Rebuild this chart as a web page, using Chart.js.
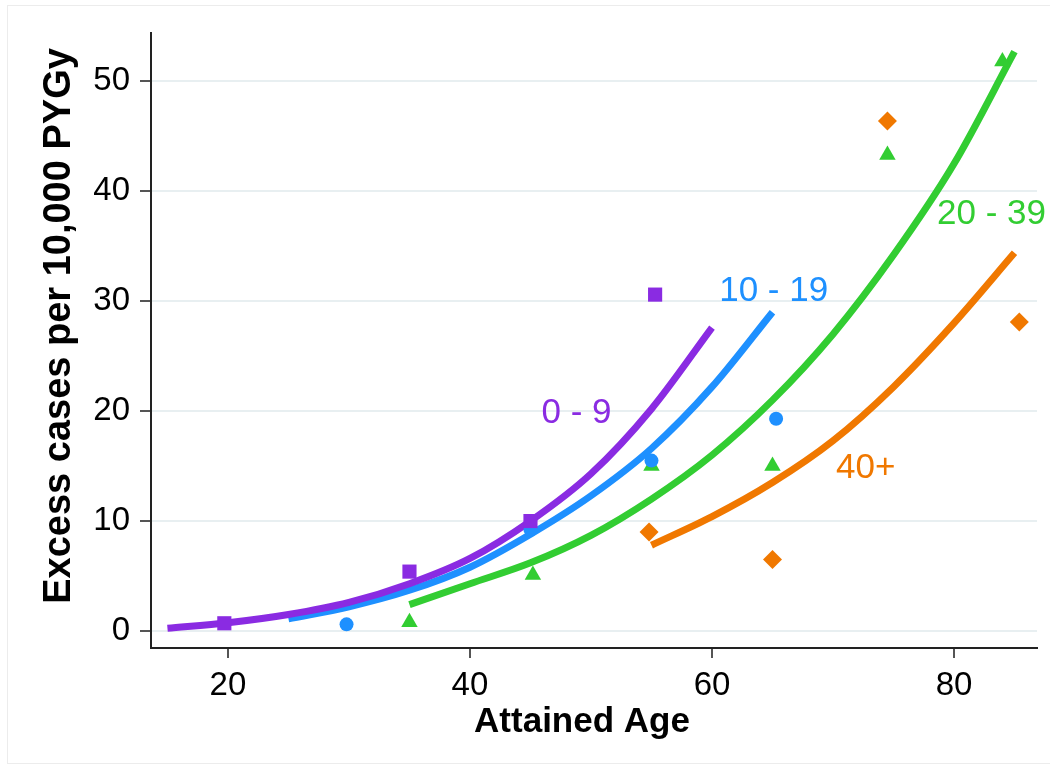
<!DOCTYPE html>
<html>
<head>
<meta charset="utf-8">
<script src="https://cdn.jsdelivr.net/npm/chart.js@4.4.1/dist/chart.umd.min.js"></script>
<style>
  html, body { margin: 0; padding: 0; background: #fff; }
  #wrap { position: relative; width: 1050px; height: 769px; overflow: hidden; }
  #frame { position: absolute; left: 7px; top: 5px; width: 1060px; height: 757px; border: 1px solid #ececec; }
  canvas { position: absolute; left: 0; top: 0; }
</style>
</head>
<body>
<div id="wrap">
  <div id="frame"></div>
  <canvas id="chart" width="1050" height="769"></canvas>
</div>
<script>
// axis ticks
const xTicks = [20, 40, 60, 80];
const yTicks = [0, 10, 20, 30, 40, 50];
const xTitle = "Attained Age";
const yTitle = "Excess cases per 10,000 PYGy";

// groups (age at exposure)
const groupNames = ["0 - 9", "10 - 19", "20 - 39", "40+"];
const groupColors = ["#8a2be2", "#1e90ff", "#32cd32", "#f07800"];

const obs09Age = [19.7, 35, 45, 55.3];
const obs09Val = [0.7, 5.4, 10.0, 30.6];
const obs1019Age = [29.8, 45, 55, 65.3];
const obs1019Val = [0.6, 9.2, 15.5, 19.3];
const obs2039Age = [35, 45.2, 55, 65, 74.5, 84];
const obs2039Val = [0.8, 5.1, 15.0, 15.0, 43.3, 51.8];
const obs40Age = [54.8, 65, 74.5, 85.4];
const obs40Val = [9.0, 6.5, 46.4, 28.1];

// fitted curves
const fit09Age = [15, 20, 25, 30, 35, 40, 45, 50, 55, 60];
const fit09Val = [0.25, 0.75, 1.5, 2.6, 4.3, 6.6, 10.0, 14.3, 20.2, 27.6];
const fit1019Age = [25, 30, 35, 40, 45, 50, 55, 60, 65];
const fit1019Val = [1.1, 2.2, 3.7, 5.8, 8.8, 12.3, 16.6, 22.2, 29.0];
const fit2039Age = [35, 40, 45, 50, 55, 60, 65, 70, 75, 80, 85];
const fit2039Val = [2.4, 4.3, 6.2, 8.7, 12.0, 16.0, 21.0, 27.0, 34.2, 42.5, 52.7];
const fit40Age = [55, 60, 65, 70, 75, 80, 85];
const fit40Val = [7.8, 10.4, 13.5, 17.3, 22.2, 28.0, 34.4];

// where the group labels sit (data coords)
const labelAge = [48.8, 65.1, 83.1, 72.7];
const labelVal = [19.8, 30.9, 37.9, 14.8];

const FONT = "'Liberation Sans', Arial, Helvetica, sans-serif";

function pairs(xs, ys) {
    return xs.map((x, i) => ({ x: x, y: ys[i] }));
}

function pointSet(xs, ys, color, style, radius) {
    return {
        data: pairs(xs, ys),
        backgroundColor: color,
        borderColor: color,
        borderWidth: 0,
        pointStyle: style,
        pointRadius: radius,
        showLine: false,
        order: 0
    };
}

function curveSet(xs, ys, color) {
    return {
        data: pairs(xs, ys),
        borderColor: color,
        borderWidth: 7,
        pointRadius: 0,
        showLine: true,
        cubicInterpolationMode: "monotone",
        fill: false,
        order: 1
    };
}

// group labels drawn in data space
const groupLabels = {
    id: "groupLabels",
    afterDatasetsDraw(chart) {
        const ctx = chart.ctx;
        const xs = chart.scales.x;
        const ys = chart.scales.y;
        ctx.save();
        ctx.font = "35px " + FONT;
        ctx.textAlign = "center";
        ctx.textBaseline = "middle";
        groupNames.forEach((name, i) => {
            ctx.fillStyle = groupColors[i];
            ctx.fillText(name, xs.getPixelForValue(labelAge[i]), ys.getPixelForValue(labelVal[i]));
        });
        ctx.restore();
    }
};

// axis titles (slightly off centre, like the original)
const axisTitles = {
    id: "axisTitles",
    afterDraw(chart) {
        const ctx = chart.ctx;
        ctx.save();
        ctx.fillStyle = "#000";
        ctx.textAlign = "center";
        ctx.textBaseline = "middle";
        ctx.font = "bold 35px " + FONT;
        ctx.fillText(xTitle, 582, 722);
        ctx.translate(60, 326);
        ctx.rotate(-Math.PI / 2);
        ctx.font = "bold 38px " + FONT;
        ctx.fillText(yTitle, 0, 0);
        ctx.restore();
    }
};

const ctx = document.getElementById("chart").getContext("2d");
new Chart(ctx, {
    type: "scatter",
    data: {
        datasets: [
            pointSet(obs09Age, obs09Val, groupColors[0], "rect", 10),
            pointSet(obs1019Age, obs1019Val, groupColors[1], "circle", 7),
            pointSet(obs2039Age, obs2039Val, groupColors[2], "triangle", 9.5),
            pointSet(obs40Age, obs40Val, groupColors[3], "rectRot", 9.5),
            curveSet(fit09Age, fit09Val, groupColors[0]),
            curveSet(fit1019Age, fit1019Val, groupColors[1]),
            curveSet(fit2039Age, fit2039Val, groupColors[2]),
            curveSet(fit40Age, fit40Val, groupColors[3])
        ]
    },
    options: {
        responsive: false,
        animation: false,
        layout: { padding: { top: 33, right: 13, left: 0, bottom: 0 } },
        plugins: {
            legend: { display: false },
            tooltip: { enabled: false }
        },
        scales: {
            x: {
                type: "linear",
                min: 13.64,
                max: 86.86,
                afterBuildTicks: (axis) => { axis.ticks = xTicks.map(v => ({ value: v })); },
                afterFit: (axis) => { axis.height = 121; },
                grid: {
                    drawOnChartArea: false,
                    drawTicks: true,
                    tickLength: 10,
                    tickColor: "#555",
                    lineWidth: 2
                },
                border: { display: true, color: "#222", width: 2 },
                ticks: {
                    color: "#000",
                    padding: 11,
                    font: { family: FONT, size: 33, lineHeight: 1 },
                    maxRotation: 0
                },
                title: { display: false }
            },
            y: {
                type: "linear",
                min: -1.55,
                max: 54.4,
                afterBuildTicks: (axis) => { axis.ticks = yTicks.map(v => ({ value: v })); },
                afterFit: (axis) => { axis.width = 151; },
                grid: {
                    color: "#e8eff1",
                    lineWidth: 2,
                    drawTicks: true,
                    tickLength: 11,
                    tickColor: "#555"
                },
                border: { display: true, color: "#222", width: 2 },
                ticks: {
                    color: "#000",
                    padding: 10,
                    font: { family: FONT, size: 33, lineHeight: 1 }
                },
                title: { display: false }
            }
        }
    },
    plugins: [groupLabels, axisTitles]
});
</script>
</body>
</html>
